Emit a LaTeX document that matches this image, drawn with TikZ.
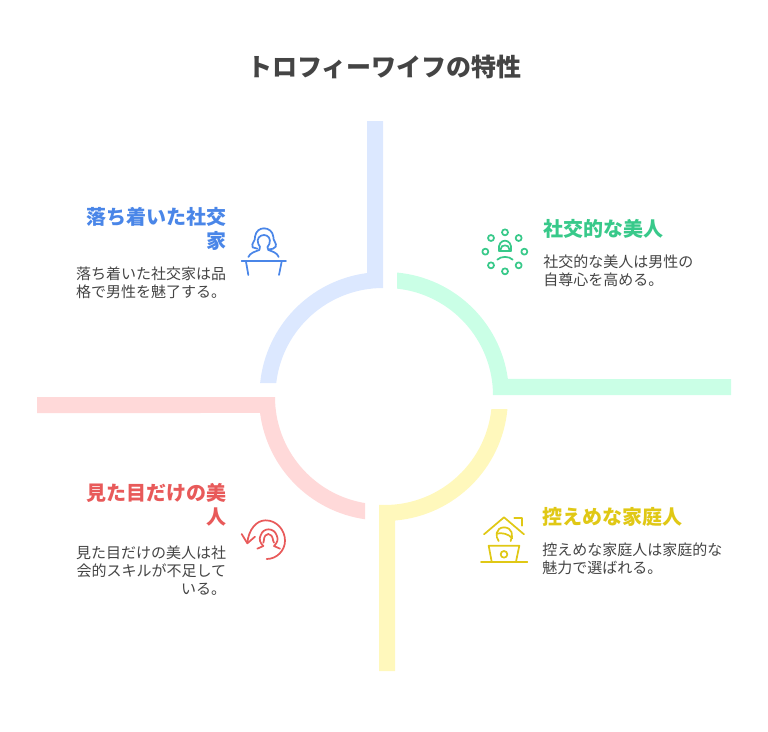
\documentclass[tikz,border=0pt]{standalone}
\usepackage{fontspec}
\setmainfont{Noto Sans CJK JP}
\usepackage{xcolor}
\definecolor{bluebar}{HTML}{DCE8FF}
\definecolor{greenbar}{HTML}{CAFFE6}
\definecolor{yellowbar}{HTML}{FFF8BC}
\definecolor{redbar}{HTML}{FFD9D9}
\definecolor{bluetxt}{HTML}{4A86E8}
\definecolor{greentxt}{HTML}{38C98A}
\definecolor{yellowtxt}{HTML}{E0C815}
\definecolor{redtxt}{HTML}{E85A5A}
\definecolor{graytxt}{HTML}{444444}
\tikzset{
  titlelabel/.style={inner sep=0pt,text=graytxt,font=\fontsize{18.75}{22}\selectfont\bfseries},
  headlabel/.style={inner sep=0pt,font=\fontsize{15}{18}\selectfont\bfseries},
  bodylabel/.style={inner sep=0pt,text=graytxt,font=\fontsize{11.25}{13.5}\selectfont},
  iconline/.style={line width=1.3pt,line cap=round,line join=round}
}

\begin{document}
\begin{tikzpicture}[x=0.75pt,y=0.75pt,yscale=-1,xscale=1]
\useasboundingbox (0,0) rectangle (768,732);

%Title
\node[titlelabel] (title) at (384.5,67) {トロフィーワイフの特性};

%Shape: blue bar and arc
\fill[bluebar] (367,121) -- (383,121) -- (383,288) arc[start angle=270,end angle=186.68,radius=107.5] -- (260.13,383) arc[start angle=185.81,end angle=262.56,radius=123.5] -- cycle;
%Shape: green bar and arc
\fill[greenbar] (397,272.54) arc[start angle=275.34,end angle=352.32,radius=123.5] -- (731,379) -- (731,395) -- (493,395) arc[start angle=359.73,end angle=276.14,radius=107.5] -- cycle;
%Shape: red bar and arc
\fill[redbar] (37,397) -- (275,397) arc[start angle=180,end angle=99.37,radius=107.5] -- (365,519.25) arc[start angle=98.15,end angle=172.56,radius=123.5] -- (37,413) -- cycle;
%Shape: yellow bar and arc
\fill[yellowbar] (379,671) -- (379,504.86) arc[start angle=92.93,end angle=6.14,radius=107.5] -- (507.46,409) arc[start angle=5.34,end angle=85.12,radius=123.5] -- (395,671) -- cycle;

%Labels
\node[headlabel,text=bluetxt,anchor=east,align=right] (calmhead) at (226.5,229) {落ち着いた社交\\家};
\node[bodylabel,anchor=east,align=right] (calmbody) at (226.5,283) {落ち着いた社交家は品\\格で男性を魅了する。};
\node[headlabel,text=greentxt,anchor=west,align=left] (socialhead) at (543,229) {社交的な美人};
\node[bodylabel,anchor=west,align=left] (socialbody) at (543,271) {社交的な美人は男性の\\自尊心を高める。};
\node[headlabel,text=redtxt,anchor=east,align=right] (looshead) at (226.5,505) {見た目だけの美\\人};
\node[bodylabel,anchor=east,align=right] (loosbody) at (226.5,571) {見た目だけの美人は社\\会的スキルが不足して\\いる。};
\node[headlabel,text=yellowtxt,anchor=west,align=left] (homehead) at (542,517) {控えめな家庭人};
\node[bodylabel,anchor=west,align=left] (homebody) at (542,559) {控えめな家庭人は家庭的な\\魅力で選ばれる。};

%Icon: woman at a desk
\begin{scope}[shift={(230,210)},x=0.25pt,y=0.25pt,bluetxt,iconline]
\draw (68,112) .. controls (62,100) and (78,92) .. (75,80) .. controls (78,62) and (90,55) .. (102,55) .. controls (116,55) and (128,64) .. (130,80) .. controls (128,92) and (142,100) .. (137,110) .. controls (133,116) and (125,118) .. (118,118);
\draw (55,141) .. controls (60,128) and (78,124) .. (88,120) .. controls (92,112) and (90,108) .. (85,102) .. controls (78,86) and (90,75) .. (102,75) .. controls (114,75) and (124,86) .. (118,102) .. controls (112,108) and (110,114) .. (115,120) .. controls (126,124) and (142,128) .. (146,141);
\draw (68,112) -- (82,116);
\draw (35,152) -- (168,152);
\draw (48,155) -- (55,195);
\draw (155,155) -- (147,195);
\end{scope}

%Icon: person in a ring of dots
\begin{scope}[shift={(470,220)},x=0.25pt,y=0.25pt,greentxt,iconline]
\foreach \dotx/\doty in {105/37,146/54,163/95,146/136,105/154,63/136,46/95,63/54}
  \draw (\dotx,\doty) circle[radius=9];
\draw (87,92) .. controls (84,72) and (94,62) .. (105,62) .. controls (116,62) and (126,72) .. (123,92);
\draw (92,88) .. controls (92,80) and (98,76) .. (105,76) .. controls (112,76) and (118,80) .. (118,88);
\draw (87,92) -- (123,92);
\draw (82,119) .. controls (92,108) and (118,108) .. (128,119);
\end{scope}

%Icon: person in a turning arrow
\begin{scope}[shift={(230,510)},x=0.25pt,y=0.25pt,redtxt,iconline]
\draw (110,147) .. controls (140,147) and (165,122) .. (165,92) .. controls (165,60) and (140,31) .. (107,31) .. controls (78,31) and (56,60) .. (52,98);
\draw (35,72) -- (52,100) -- (75,80);
\draw (82,116) -- (100,108) .. controls (90,98) and (86,88) .. (92,76) .. controls (96,64) and (106,58) .. (115,58) .. controls (126,58) and (136,64) .. (140,76) .. controls (146,88) and (142,98) .. (132,108) -- (150,116);
\draw (100,98) .. controls (104,90) and (98,76) .. (115,72) .. controls (132,76) and (126,90) .. (132,98);
\end{scope}

%Icon: person at a laptop under a roof
\begin{scope}[shift={(470,505)},x=0.25pt,y=0.25pt,yellowtxt,iconline]
\draw (42,88) -- (102,37) -- (162,88);
\draw (133,40) -- (155,40) -- (155,62);
\draw (86,108) .. controls (76,96) and (76,68) .. (102,67) .. controls (128,68) and (130,92) .. (122,108);
\draw (80,86) .. controls (95,82) and (115,86) .. (127,100);
\draw (65,170) -- (56,122) -- (148,122) -- (138,170);
\draw (33,172) -- (172,172);
\draw (102,148) circle[radius=10];
\end{scope}
\end{tikzpicture}
\end{document}
